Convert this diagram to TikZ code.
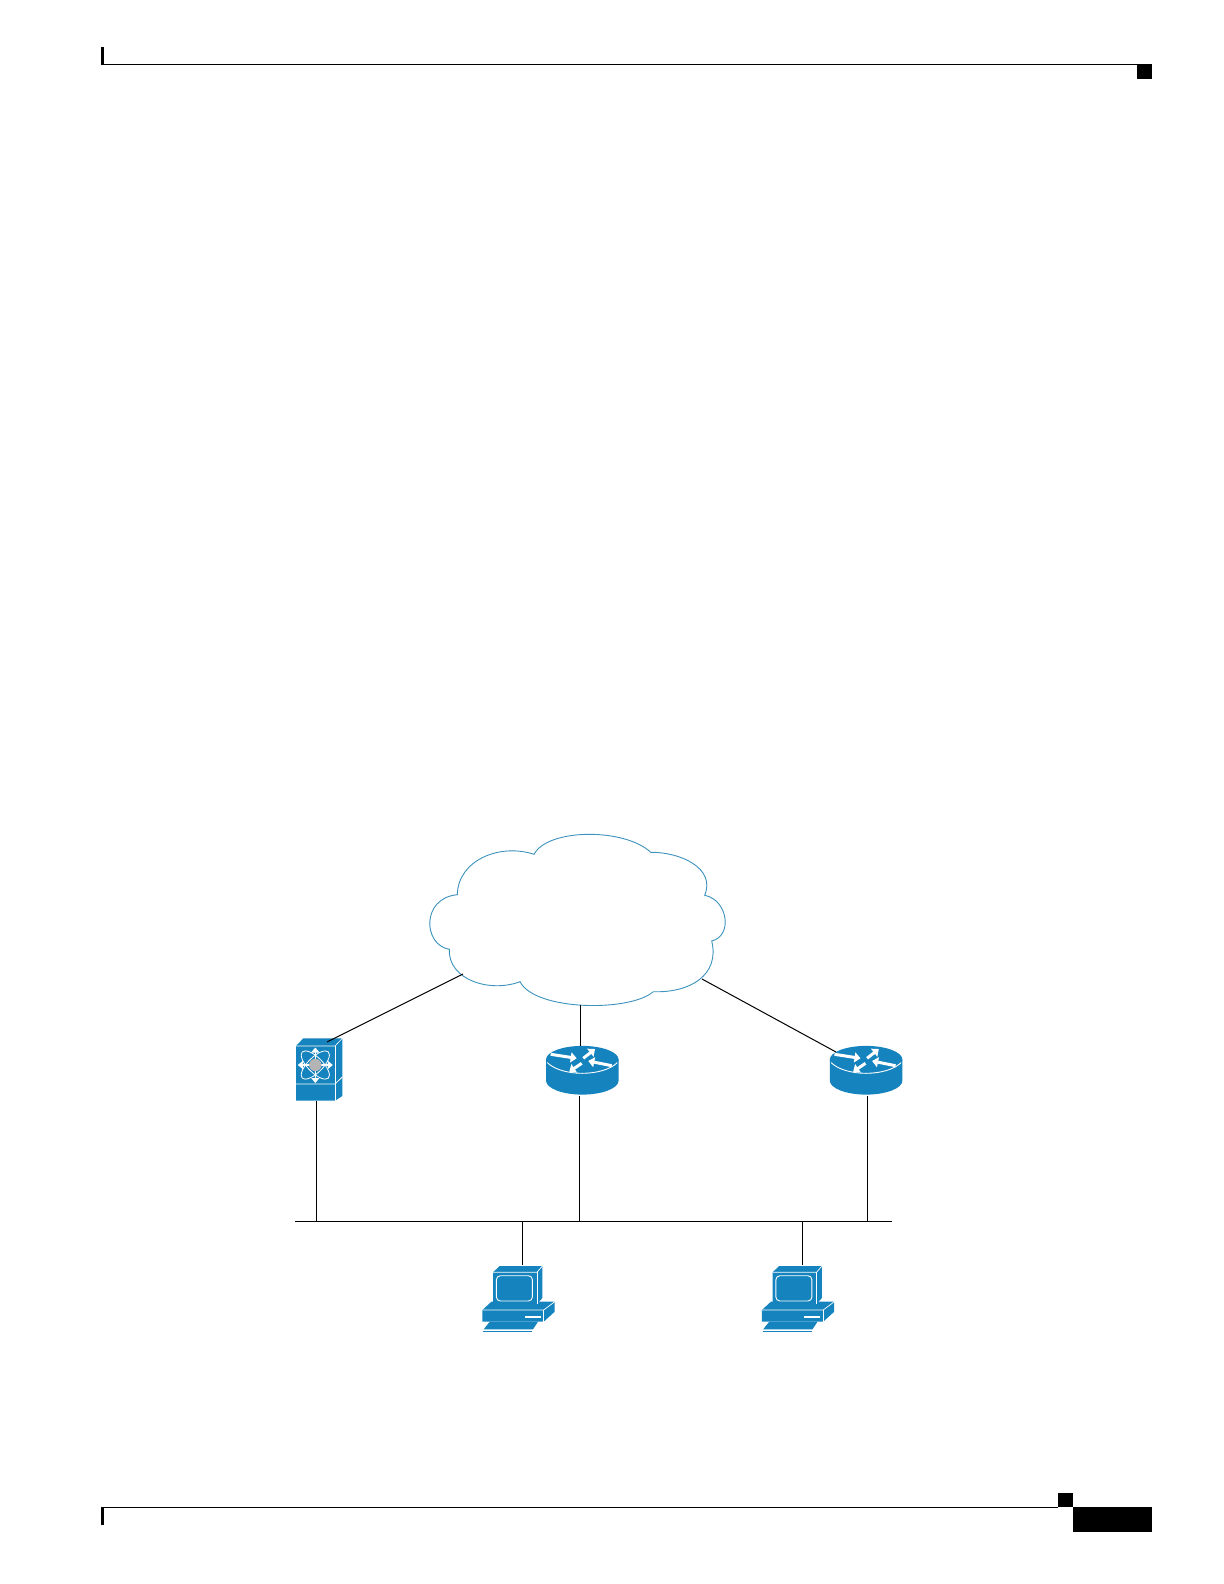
\documentclass[tikz,border=0pt]{standalone}
\usepackage{amsmath}
\usepackage{tikz}
\usetikzlibrary{arrows.meta, positioning}
\definecolor{azul}{HTML}{1583BE}
\definecolor{borde}{HTML}{3C93BC}
\definecolor{gris}{HTML}{B4B4B4}
\tikzset{
    pics/router/.style={code={
        \fill[azul] (-36.3,0) -- (-36.3,21) .. controls (-36.3,28.7) and (-20,35) .. (0,35)
            .. controls (20,35) and (36.3,28.7) .. (36.3,21) -- (36.3,0) -- cycle;
        \fill[azul] (0,0) ellipse [x radius=36.3, y radius=13.7];
        \draw[white, line width=0.45pt] (-35,3) .. controls (-28,10) and (-14,13.7) .. (0,13.7)
            .. controls (14,13.7) and (28,10) .. (35,3);
        \draw[giro] (-31.6,-5.3) -- (-5.6,-1.3);
        \draw[giro] (1,-1.3) -- (12.7,-10.6);
        \draw[giro] (29.4,6.1) -- (6,1.4);
        \draw[giro] (-0.6,3.7) -- (-13,12.1);
    }},
    pics/nexus/.style={code={
        \fill[azul] (-19.3,-19) -- (-12,-26.7) -- (27,-26.7) -- (27,31) -- (19.7,35.7) -- (-19.3,35.7) -- cycle;
        \draw[white, line width=0.3pt] (-19.3,-19) -- (19.7,-19) -- (27,-26.7);
        \draw[white, line width=0.4pt] (19.7,-19) -- (19.7,35.7);
        \draw[white, line width=0.4pt] (-19.3,19) -- (19.7,19) -- (27,12);
        \draw[white, line width=0.4pt, rotate=45] (0,0) ellipse [x radius=18.5, y radius=7.5];
        \draw[white, line width=0.4pt, rotate=-45] (0,0) ellipse [x radius=18.5, y radius=7.5];
        \foreach \dx/\dy in {0/-17.5, 0/18, -17.5/0, 17.5/0}
            \draw[rayo] (0,0) -- (\dx,\dy);
        \fill[gris] (0,0) circle [radius=6.2];
    }},
    pics/equipo/.style={code={
        % teclado, base y monitor
        \fill[azul] (7.7,55.7) -- (56,55.7) -- (51,63.3) -- (1.7,63.3) -- cycle;
        \draw[azul, line width=0.4pt] (1,65.5) -- (50,65.5);
        \fill[azul] (0.4,44) -- (9.4,35.7) -- (72.7,35.7) -- (72.7,45.7) -- (61.7,55.7) -- (0.4,55.7) -- cycle;
        \draw[white, line width=0.35pt] (0.4,44) -- (61.7,44) -- (72.7,35.7);
        \draw[white, line width=0.35pt] (61.7,44) -- (61.7,55.7);
        \fill[white] (42.7,50) rectangle (58.7,52);
        \fill[azul] (11,6.3) -- (17.7,0) -- (60.4,0) -- (60.4,32) -- (55,38) -- (11,38) -- cycle;
        \draw[white, line width=0.35pt] (11,6.3) -- (55,6.3) -- (60.4,0);
        \draw[white, line width=0.35pt] (55,6.3) -- (55,38);
        \draw[white, line width=0.45pt, rounded corners=2pt] (14.4,9.7) rectangle (50.4,35);
    }}
}
\begin{document}
\begin{tikzpicture}[
        x=0.5pt, y=-0.5pt,
        nube/.style={draw=borde, line width=0.45pt, fill=white},
        enlace/.style={draw=black, line width=0.5pt},
        marca/.style={fill=black},
        giro/.style={white, line width=1.5pt, -{Triangle[length=3pt, width=5pt]}},
        rayo/.style={white, line width=0.8pt, -{Triangle[length=2.5pt, width=4pt]}},
        icono/.style={inner sep=0pt, minimum width=36.5pt, minimum height=25pt}
    ]
    \useasboundingbox (0,0) rectangle (1224,1584);
    % marcas de pagina
    \fill[marca] (101,47) rectangle (104,65);
    \fill[marca] (101,64) rectangle (1137,65.2);
    \fill[marca] (1137,64) rectangle (1152,79);
    \fill[marca] (101,1507) rectangle (104,1525);
    \fill[marca] (101,1507) rectangle (1058,1508.2);
    \fill[marca] (1058,1493) rectangle (1073,1507);
    \fill[marca] (1073,1507) rectangle (1152,1532);
    % nube
    \path[nube] (534,854.3) .. controls (548,828) and (625,828) .. (650.7,852.3)
        .. controls (680,852) and (716,868) .. (704.7,895.3)
        .. controls (728,900) and (733,936) .. (711.7,941)
        .. controls (720,975) and (690,993) .. (653.3,991.7)
        .. controls (630,1012) and (535,1011) .. (520,981.7)
        .. controls (490,993) and (448,980) .. (449.3,949.3)
        .. controls (423,945) and (421,898) .. (457.3,894.7)
        .. controls (458,860) and (500,843) .. (534,854.3) -- cycle;
    \coordinate (nubeA) at (463,974);
    \coordinate (nubeB) at (580.7,1005);
    \coordinate (nubeC) at (702,979);
    % equipos
    \pic at (315.3,1065) {nexus};
    \pic at (582.3,1059.6) {router};
    \pic at (866.1,1059.6) {router};
    \pic at (482,1266) {equipo};
    \pic at (761.5,1266) {equipo};
    \node[icono, minimum width=20pt, minimum height=31.5pt] (sw) at (316,1069.5) {};
    \node[icono] (r1) at (579,1071) {};
    \node[icono] (r2) at (867.5,1071) {};
    \node[icono, minimum height=32pt] (pc1) at (522,1297) {};
    \node[icono, minimum height=32pt] (pc2) at (802.5,1297) {};
    \node[inner sep=0pt, minimum width=298.5pt, minimum height=0.5pt, fill=black] (lan) at (593.5,1221) {};
    \coordinate (swT) at (327,1042);
    \coordinate (r2T) at (836,1052);
    % conexiones
    \draw[enlace] (nubeA) -- (swT);
    \draw[enlace] (nubeB) -- (nubeB |- r1.north);
    \draw[enlace] (nubeC) -- (r2T);
    \draw[enlace] (sw.south) -- (sw.south |- lan);
    \draw[enlace] (r1.south) -- (r1.south |- lan);
    \draw[enlace] (r2.south) -- (r2.south |- lan);
    \draw[enlace] (pc1.north) -- (pc1.north |- lan);
    \draw[enlace] (pc2.north) -- (pc2.north |- lan);
\end{tikzpicture}
\end{document}
